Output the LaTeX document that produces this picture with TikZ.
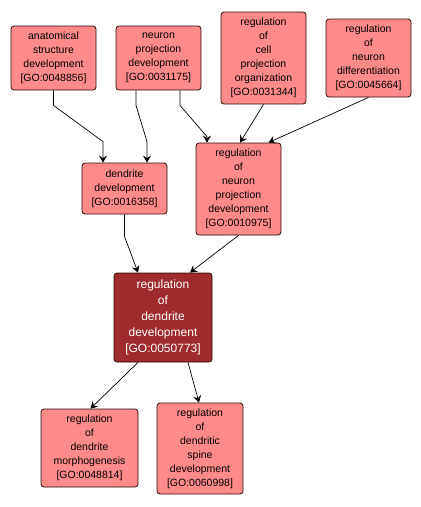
\documentclass[tikz,border=0pt]{standalone}
\usepackage{fontspec}
\setmainfont{Liberation Sans}
\usetikzlibrary{arrows.meta,calc,positioning}
\definecolor{goterm}{HTML}{FF8A8A}
\definecolor{goquery}{HTML}{9E2B2E}
\definecolor{goborder}{HTML}{2B0A0A}

\begin{document}
\begin{tikzpicture}[
                x=1pt, y=-1pt,
                >={Stealth[length=7pt, width=8pt, inset=2.5pt]},
                term/.style={rectangle, rounded corners=3pt, draw=goborder, line width=0.8pt,
                fill=goterm, align=center, inner sep=2pt, minimum width=85pt,
                font=\fontsize{10.5}{14}\selectfont},
                query/.style={term, fill=goquery, text=white, minimum width=98pt,
                font=\fontsize{12}{16}\selectfont},
                isa/.style={->, line width=0.7pt, black},
                ]

                \useasboundingbox (0,0) rectangle (421,507);

                % ── Top row: ancestor terms ──
                \node[term, minimum height=64pt] (asd) at (53.5,58)
                    {anatomical\\structure\\development\\{[GO:0048856]}};
                \node[term, minimum height=64pt] (npd) at (158.5,58)
                    {neuron\\projection\\development\\{[GO:0031175]}};
                \node[term, minimum height=92pt] (rcpo) at (263.5,58)
                    {regulation\\of\\cell\\projection\\organization\\{[GO:0031344]}};
                \node[term, minimum height=78pt] (rnd) at (368.5,58)
                    {regulation\\of\\neuron\\differentiation\\{[GO:0045664]}};

                % ── Middle row ──
                \node[term, minimum height=51pt] (dd) at (124.5,188.5)
                    {dendrite\\development\\{[GO:0016358]}};
                \node[term, minimum height=92pt] (rnpd) at (238.5,189)
                    {regulation\\of\\neuron\\projection\\development\\{[GO:0010975]}};

                % ── Query term ──
                \node[query, minimum height=89pt] (rdd) at (163,317.5)
                    {regulation\\of\\dendrite\\development\\{[GO:0050773]}};

                % ── Children ──
                \node[term, minimum height=78pt, minimum width=97pt] (rdm) at (89.5,448)
                    {regulation\\of\\dendrite\\morphogenesis\\{[GO:0048814]}};
                \node[term, minimum height=91pt, minimum width=86pt] (rdsd) at (200,448.5)
                    {regulation\\of\\dendritic\\spine\\development\\{[GO:0060998]}};

                % ── Edges ──
                \draw[isa] (asd.south) -- ++(0,15) -- ($(dd.north)+(-21.5,-21)$) -- ([xshift=-21.5pt]dd.north);
                \draw[isa] ([xshift=-22.5pt]npd.south) -- ++(0,15) -- ($(dd.north)+(22.5,-21)$) -- ([xshift=22.5pt]dd.north);
                \draw[isa] ([xshift=21.5pt]npd.south) -- ++(0,15) -- ($(rnpd.north)+(-31.5,-6)$) -- ([xshift=-31.5pt]rnpd.north);
                \draw[isa] (rcpo.south) -- ([xshift=1.5pt]rnpd.north);
                \draw[isa] (rnd.south) -- ([xshift=30pt]rnpd.north);
                \draw[isa] (dd.south) -- ++(0,22) -- ([xshift=-25pt]rdd.north);
                \draw[isa] (rnpd.south) -- ([xshift=27pt]rdd.north);
                \draw[isa] ([xshift=-25pt]rdd.south) -- ([xshift=1pt]rdm.north);
                \draw[isa] ([xshift=25pt]rdd.south) -- ([xshift=-1pt]rdsd.north);

\end{tikzpicture}
\end{document}
